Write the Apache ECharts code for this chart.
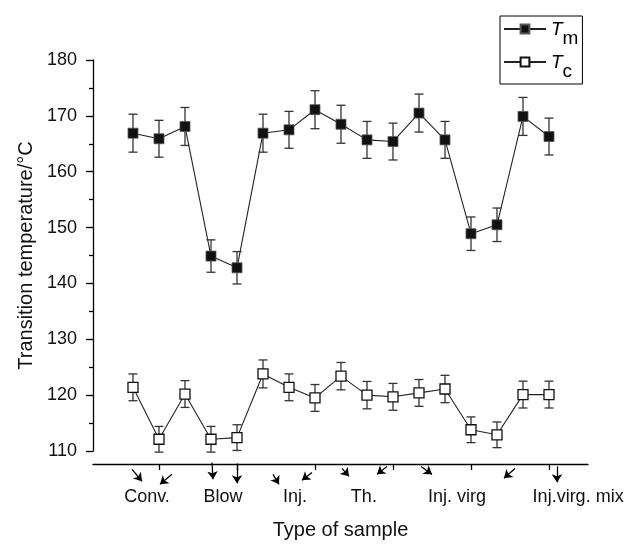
<!DOCTYPE html>
<html><head><meta charset="utf-8">
<script src="https://cdn.jsdelivr.net/npm/echarts@6/dist/echarts.min.js"></script>
<style>html,body{margin:0;padding:0;background:#fff}#c{width:628px;height:545px}</style>
</head><body><div id="c"></div>
<script>
// sample positions along the x axis (1..17)
const sampleIndex = [1,2,3,4,5,6,7,8,9,10,11,12,13,14,15,16,17];
// melting temperature Tm and its error
const tm    = [166.9,165.9,168.1,144.9,142.8,166.9,167.5,171.1,168.5,165.7,165.4,170.5,165.7,148.9,150.5,169.9,166.3];
const tmErr = [3.4,3.3,3.4,2.9,2.9,3.4,3.3,3.4,3.4,3.3,3.3,3.4,3.3,3.0,3.0,3.4,3.3];
// crystallization temperature Tc and its error
const tc    = [121.4,112.1,120.2,112.1,112.4,123.8,121.4,119.5,123.4,120.0,119.7,120.4,121.1,113.8,112.9,120.1,120.1];
const tcErr = [2.4,2.3,2.4,2.3,2.3,2.5,2.4,2.4,2.45,2.45,2.4,2.4,2.45,2.3,2.3,2.4,2.4];
// category labels of sample groups and where they sit on the x scale
const groupNames   = ['Conv.','Blow','Inj.','Th.','Inj. virg','Inj.virg. mix'];
const groupLabelAt = [1.54, 4.46, 7.23, 9.88, 13.46, 18.12];
const groupTickAt  = [2, 5, 8, 11, 14, 17];
// y-axis ticks
const yMin = 110, yMax = 180, yStep = 10;
// annotation arrows below the axis (data units: [sample, temperature])
const arrowFrom = [[0.962,106.7],[2.5,105.82],[4.038,107.94],[5.0,107.77],[6.385,105.82],[7.885,106.17],[9.038,106.88],[10.769,107.23],[12.077,107.23],[15.692,106.88],[17.308,107.23]];
const arrowTo   = [[1.346,104.58],[2.038,104.04],[4.077,104.93],[5.0,104.22],[6.615,104.04],[7.5,104.76],[9.308,105.46],[10.385,105.82],[12.5,105.82],[15.269,105.11],[17.308,104.4]];

const FONT = 'Liberation Sans, Arial, Helvetica, sans-serif';
const chart = echarts.init(document.getElementById('c'));

function errData(vals, errs){ return sampleIndex.map((x,i)=>[x, vals[i]-errs[i], vals[i]+errs[i]]); }
function errRender(params, api){
  const x = api.value(0), lo = api.value(1), hi = api.value(2);
  const p1 = api.coord([x, hi]), p2 = api.coord([x, lo]);
  const w = 4.5;
  const st = {stroke:'#333', lineWidth:1.3};
  return {type:'group', children:[
    {type:'line', shape:{x1:p1[0],y1:p1[1],x2:p2[0],y2:p2[1]}, style:st},
    {type:'line', shape:{x1:p1[0]-w,y1:p1[1],x2:p1[0]+w,y2:p1[1]}, style:st},
    {type:'line', shape:{x1:p2[0]-w,y1:p2[1],x2:p2[0]+w,y2:p2[1]}, style:st}
  ]};
}

chart.setOption({
  animation:false,
  backgroundColor:'#fff',
  textStyle:{fontFamily:FONT},
  grid:{left:93, right:40, top:60, bottom:91, containLabel:false},
  legend:{
    orient:'vertical', left:500, top:16,
    borderColor:'#000', borderWidth:1, borderRadius:0,
    padding:[4,4,3,3], itemGap:5,
    itemWidth:42, itemHeight:11,
    data:['Tm','Tc'],
    formatter: n => n==='Tm' ? '{t|T}{s|m}' : '{t|T}{s|c}',
    textStyle:{fontFamily:FONT, color:'#000',
      rich:{
        t:{fontSize:19, fontStyle:'italic', fontFamily:FONT, color:'#000', lineHeight:18, verticalAlign:'top'},
        s:{fontSize:19, fontFamily:FONT, color:'#000', lineHeight:18, padding:[9,0,0,0], verticalAlign:'top'}
      }
    }
  },
  xAxis:{
    type:'value', min:-0.538, max:18.5, offset:13,
    axisLine:{show:true, onZero:false, lineStyle:{color:'#000', width:1.3}},
    axisTick:{show:true, inside:false, length:6, customValues:groupTickAt, lineStyle:{color:'#000', width:1.3}},
    axisLabel:{customValues:groupLabelAt, margin:24, fontSize:18, color:'#111', fontFamily:FONT,
      formatter: v => { const i = groupLabelAt.findIndex(p => Math.abs(p-v) < 1e-6); return i>=0 ? groupNames[i] : ''; }},
    splitLine:{show:false},
    name:'Type of sample', nameLocation:'middle', nameGap:56,
    nameTextStyle:{fontSize:20, color:'#111', fontFamily:FONT}
  },
  yAxis:{
    type:'value', min:yMin, max:yMax, interval:yStep,
    axisLine:{show:true, onZero:false, lineStyle:{color:'#000', width:1.3}},
    axisTick:{show:true, inside:false, length:7, lineStyle:{color:'#000', width:1.3}},
    minorTick:{show:true, splitNumber:2, length:4, lineStyle:{color:'#000', width:1.3}},
    axisLabel:{margin:16, fontSize:18, color:'#111', fontFamily:FONT},
    splitLine:{show:false},
    name:'Transition temperature/°C', nameLocation:'middle', nameGap:54,
    nameTextStyle:{fontSize:20, color:'#111', fontFamily:FONT}
  },
  series:[
    {type:'custom', name:'TmErr', renderItem:errRender, data:errData(tm,tmErr), encode:{x:0,y:[1,2]}, z:1, silent:true},
    {type:'custom', name:'TcErr', renderItem:errRender, data:errData(tc,tcErr), encode:{x:0,y:[1,2]}, z:1, silent:true},
    {type:'line', name:'Tm', data:sampleIndex.map((x,i)=>[x,tm[i]]), symbol:'rect', symbolSize:10,
      lineStyle:{color:'#222', width:1.1}, itemStyle:{color:'#111', borderColor:'#555', borderWidth:0.8}, z:3},
    {type:'line', name:'Tc', data:sampleIndex.map((x,i)=>[x,tc[i]]), symbol:'rect', symbolSize:10,
      lineStyle:{color:'#222', width:1.1}, itemStyle:{color:'#fff', borderColor:'#111', borderWidth:1.3}, z:3},
    {type:'lines', coordinateSystem:'cartesian2d', clip:false, silent:true, z:4,
      symbol:['none','arrow'], symbolSize:8,
      lineStyle:{color:'#000', width:1.3, opacity:1},
      data: arrowFrom.map((f,i)=>({coords:[f, arrowTo[i]]}))}
  ]
});
</script></body></html>
